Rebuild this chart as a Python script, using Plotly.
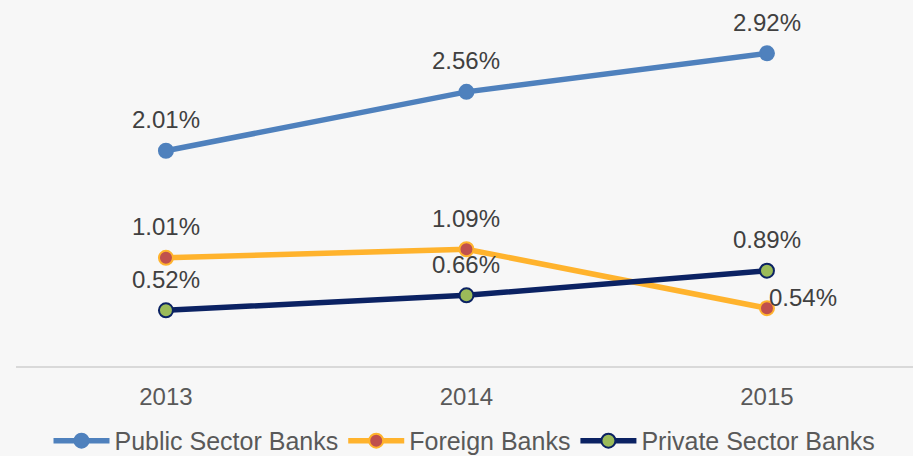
import plotly.graph_objects as go

years = ["2013", "2014", "2015"]
public_sector = [2.01, 2.56, 2.92]
foreign_banks = [1.01, 1.09, 0.54]
private_sector = [0.52, 0.66, 0.89]

series = [
    ("Public Sector Banks", public_sector, "#4f81bd", "#4f81bd", "#4f81bd"),
    ("Foreign Banks", foreign_banks, "#ffb32d", "#c0504d", "#ffb32d"),
    ("Private Sector Banks", private_sector, "#0b2263", "#9bbb59", "#0b2263"),
]

fig = go.Figure()
for name, vals, lc, mfill, mline in series:
    fig.add_trace(go.Scatter(
        x=years, y=vals, name=name, mode="lines+markers",
        line=dict(color=lc, width=5.5),
        marker=dict(size=14, color=mfill, line=dict(color=mline, width=2)),
    ))

font_fam = "Liberation Sans, Arial, sans-serif"
annotations = []
for name, vals, *_ in series:
    for i, v in enumerate(vals):
        xs, ys = 0, 31
        if name == "Foreign Banks" and i == 2:
            xs, ys = 36, 11
        annotations.append(dict(
            x=i, y=v, xref="x", yref="y", text=f"{v:.2f}%", showarrow=False,
            xshift=xs, yshift=ys,
            font=dict(family=font_fam, size=24, color="#404040"),
        ))

fig.update_layout(
    width=913, height=456,
    margin=dict(l=16, r=0, t=0, b=90, autoexpand=False),
    paper_bgcolor="#f7f7f7", plot_bgcolor="#f7f7f7",
    font=dict(family=font_fam, size=24, color="#595959"),
    annotations=annotations,
    showlegend=True,
    legend=dict(orientation="h", x=0.5, xanchor="center",
                yref="container", y=0.033, yanchor="middle",
                font=dict(size=25, color="#595959"), bgcolor="rgba(0,0,0,0)",
                itemwidth=56),
    xaxis=dict(type="category", range=[-0.499, 2.486], showgrid=False,
               showline=True, linecolor="#d9d9d9", linewidth=1.5,
               ticks="", ticklabelstandoff=8,
               tickfont=dict(size=24, color="#595959"), zeroline=False),
    yaxis=dict(range=[0, 3.418], showgrid=False, showticklabels=False,
               zeroline=False, showline=False, ticks=""),
)

fig.write_html("out.html", config={"displayModeBar": False},
               post_script="document.body.style.margin='0';document.body.style.overflow='hidden';")
